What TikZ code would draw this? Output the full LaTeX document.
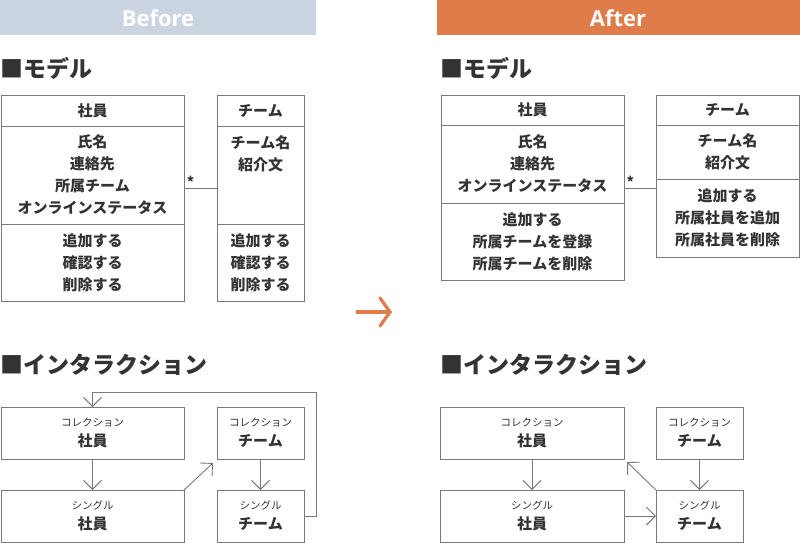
\documentclass[tikz,border=0pt]{standalone}
\usepackage{fontspec}
\setmainfont{Noto Sans CJK JP}
\newfontfamily\bandfont{Open Sans}[BoldFont={* Bold}]
\usetikzlibrary{arrows.meta,positioning}
\definecolor{inkgray}{HTML}{333333}
\definecolor{linegray}{HTML}{7A7A7A}
\definecolor{beforeblue}{HTML}{CAD5E1}
\definecolor{afterorange}{HTML}{E07B4A}
\newcommand{\kindlbl}[1]{{\mdseries\fontsize{10.5}{12}\selectfont #1}}

\begin{document}
\begin{tikzpicture}[x=1pt, y=-1pt,
                    band/.style = {fill = #1, draw = none},
                    band_label/.style = {text = white, font = \bandfont\bfseries\fontsize{22}{24}\selectfont},
                    heading/.style = {anchor = west, inner sep = 0pt, text = inkgray, font = \bfseries\fontsize{23}{26}\selectfont},
                    cell/.style = {draw = linegray, line width = 0.9pt, anchor = north west, inner sep = 0pt, outer sep = 0pt,
                                   align = center, text = inkgray, font = \bfseries\fontsize{15}{22}\selectfont},
                    ibox/.style = {cell, align = center},
                    link/.style = {draw = linegray, line width = 0.9pt},
                    flow/.style = {draw = linegray, line width = 0.9pt, -{Straight Barb[length=9pt, width=18pt]}}]
    \useasboundingbox (0,0) rectangle (800,542);
    %header bands
    \fill[band = beforeblue] (0,0) rectangle (316,35);
    \fill[band = afterorange] (437,0) rectangle (800,35);
    \node[band_label] (beforeLbl) at (158,18) {Before};
    \node[band_label] (afterLbl) at (618,18) {After};
    %centre arrow
    \coordinate (turnA) at (357,312);
    \coordinate (turnB) at (392,312);
    \draw[afterorange, line width = 3.2pt, line cap = round, -{Straight Barb[length=10pt, width=28pt, line cap=round]}] (turnA) -- (turnB);
    \begin{scope}
        %model, before
        \node[heading] (modelHeadA) at (0,68) {■モデル};
        \node[cell, minimum width = 183pt, minimum height = 31pt] (empHdrA) at (1,95) {社員};
        \node[cell, minimum width = 183pt, minimum height = 98pt] (empAttrA) at (1,126) {氏名\\連絡先\\所属チーム\\オンラインステータス};
        \node[cell, minimum width = 183pt, minimum height = 77pt] (empOpsA) at (1,224) {追加する\\確認する\\削除する};
        \node[cell, minimum width = 87pt, minimum height = 31pt] (teamHdrA) at (217,95) {チーム};
        \node[cell, minimum width = 87pt, minimum height = 98pt] (teamAttrA) at (217,126) {チーム名\\紹介文\\\mbox{}\\\mbox{}};
        \node[cell, minimum width = 87pt, minimum height = 77pt] (teamOpsA) at (217,224) {追加する\\確認する\\削除する};
        \coordinate (joinA) at (0,188);
        \draw[link] (empAttrA.east |- joinA) -- node[pos = 0.2, above, inner sep = 0pt, text = inkgray, font = \bfseries\fontsize{14}{14}\selectfont] (starA) {*} (teamAttrA.west |- joinA);
        %interaction, before
        \node[heading] (flowHeadA) at (0,365) {■インタラクション};
        \node[ibox, minimum width = 183pt, minimum height = 52pt] (colEmpA) at (1,407) {\kindlbl{コレクション}\\[-2pt]社員};
        \node[ibox, minimum width = 183pt, minimum height = 52pt] (oneEmpA) at (1,490) {\kindlbl{シングル}\\[-2pt]社員};
        \node[ibox, minimum width = 87pt, minimum height = 52pt] (colTeamA) at (217,407) {\kindlbl{コレクション}\\[-2pt]チーム};
        \node[ibox, minimum width = 87pt, minimum height = 52pt] (oneTeamA) at (217,490) {\kindlbl{シングル}\\[-2pt]チーム};
        \coordinate (loopA) at (316,392);
        \draw[flow] (colEmpA) -- (oneEmpA);
        \draw[flow] (colTeamA) -- (oneTeamA);
        \draw[flow] (oneEmpA.north east) -- ([xshift = -4pt, yshift = -4pt]colTeamA.south west);
        \draw[flow] (oneTeamA.east |- 0,516) -| (loopA) -| (colEmpA.north);
    \end{scope}
    \begin{scope}
        %model, after
        \node[heading] (modelHeadB) at (440,68) {■モデル};
        \node[cell, minimum width = 183pt, minimum height = 30pt] (empHdrB) at (441,95) {社員};
        \node[cell, minimum width = 183pt, minimum height = 78pt] (empAttrB) at (441,125) {氏名\\連絡先\\オンラインステータス};
        \node[cell, minimum width = 183pt, minimum height = 77pt] (empOpsB) at (441,203) {追加する\\所属チームを登録\\所属チームを削除};
        \node[cell, minimum width = 143pt, minimum height = 30pt] (teamHdrB) at (656,95) {チーム};
        \node[cell, minimum width = 143pt, minimum height = 54pt] (teamAttrB) at (656,125) {チーム名\\紹介文};
        \node[cell, minimum width = 143pt, minimum height = 78pt] (teamOpsB) at (656,179) {追加する\\所属社員を追加\\所属社員を削除};
        \coordinate (joinB) at (0,188);
        \draw[link] (empAttrB.east |- joinB) -- node[pos = 0.2, above, inner sep = 0pt, text = inkgray, font = \bfseries\fontsize{14}{14}\selectfont] (starB) {*} (teamOpsB.west |- joinB);
        %interaction, after
        \node[heading] (flowHeadB) at (440,365) {■インタラクション};
        \node[ibox, minimum width = 184pt, minimum height = 52pt] (colEmpB) at (440,407) {\kindlbl{コレクション}\\[-2pt]社員};
        \node[ibox, minimum width = 184pt, minimum height = 52pt] (oneEmpB) at (440,490) {\kindlbl{シングル}\\[-2pt]社員};
        \node[ibox, minimum width = 87pt, minimum height = 52pt] (colTeamB) at (656,407) {\kindlbl{コレクション}\\[-2pt]チーム};
        \node[ibox, minimum width = 87pt, minimum height = 52pt] (oneTeamB) at (656,490) {\kindlbl{シングル}\\[-2pt]チーム};
        \draw[flow] (colEmpB) -- (oneEmpB);
        \draw[flow] (colTeamB) -- (oneTeamB);
        \draw[flow] (oneEmpB.east |- 0,516) -- (oneTeamB.west |- 0,516);
        \draw[flow] (oneTeamB.north west) -- ([xshift = 3pt, yshift = -3pt]colEmpB.south east);
    \end{scope}
\end{tikzpicture}
\end{document}
